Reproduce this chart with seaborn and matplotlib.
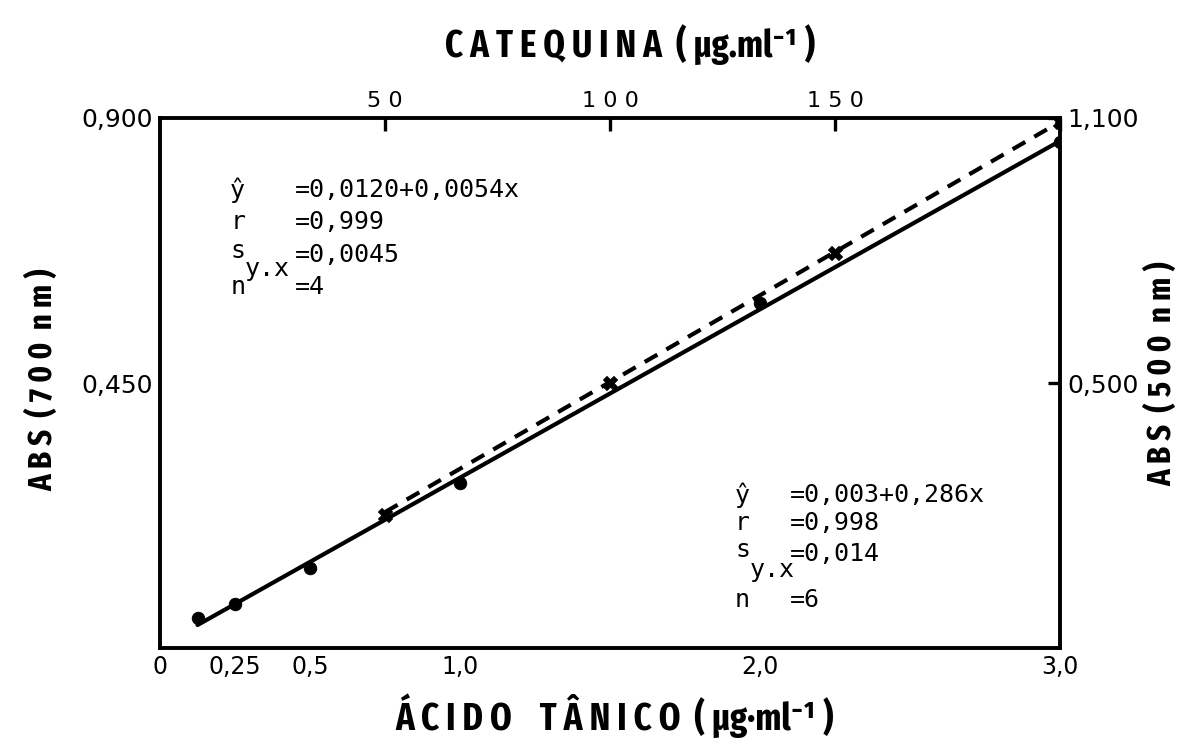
import matplotlib
matplotlib.use("Agg")
import matplotlib.pyplot as plt
import seaborn as sns
import pandas as pd

# ---- data ----
tanico_x = [0.125, 0.25, 0.5, 1.0, 2.0, 3.0]          # ácido tânico (µg/ml)
tanico_y = [0.051, 0.075, 0.136, 0.280, 0.586, 0.859]  # ABS 700 nm
tanico_fit_x = [0.125, 3.0]
tanico_fit_y = [0.039, 0.861]

catequina_x = [50, 100, 150, 200]                      # catequina (µg/ml)
catequina_y = [0.276, 0.550, 0.820, 1.092]             # ABS 500 nm
catequina_fit_x = [50, 200]
catequina_fit_y = [0.282, 1.092]

bottom_ticks = [0, 0.125, 0.25, 0.5, 1.0, 2.0, 3.0]
bottom_labels = ["0", "", "0,25", "0,5", "1,0", "2,0", "3,0"]
left_ticks = [0.225, 0.45, 0.675, 0.9]
left_labels = ["", "0,450", "", "0,900"]
top_ticks = [50, 100, 150, 200]
top_labels = ["5 0", "1 0 0", "1 5 0", ""]
right_ticks = [0.55, 1.1]
right_labels = ["0,500", "1,100"]

sns.set_style("white")
plt.rcParams["font.family"] = ["DejaVu Sans"]
for k in ["text.color", "axes.labelcolor", "xtick.color", "ytick.color"]:
    plt.rcParams[k] = "black"

W, H = 1192, 744
fig = plt.figure(figsize=(W / 100, H / 100), dpi=100)
pos = [160 / W, 1 - 648 / H, 900 / W, 530 / H]
ax = fig.add_axes(pos)
ax2 = fig.add_axes(pos, frameon=False)

df_t = pd.DataFrame({"x": tanico_x, "y": tanico_y})
df_tf = pd.DataFrame({"x": tanico_fit_x, "y": tanico_fit_y})
df_c = pd.DataFrame({"x": catequina_x, "y": catequina_y})
df_cf = pd.DataFrame({"x": catequina_fit_x, "y": catequina_fit_y})

sns.lineplot(data=df_tf, x="x", y="y", ax=ax, color="black", lw=3)
sns.scatterplot(data=df_t, x="x", y="y", ax=ax, color="black", s=80, edgecolor="black", zorder=5)

sns.lineplot(data=df_cf, x="x", y="y", ax=ax2, color="black", lw=3,
             linestyle=(0, (3.5, 2.5)))
sns.scatterplot(data=df_c, x="x", y="y", ax=ax2, color="black", marker="X", s=100,
                edgecolor="black", zorder=5)

ax.set_xlim(0, 3.0)
ax.set_ylim(0, 0.9)
ax2.set_xlim(0, 200)
ax2.set_ylim(0, 1.1)

for s in ax.spines.values():
    s.set_linewidth(2.8)
    s.set_color("black")

ax.set_xticks(bottom_ticks)
ax.set_xticklabels(bottom_labels, fontsize=17)
ax.set_yticks(left_ticks)
ax.set_yticklabels(left_labels, fontsize=18)
ax.tick_params(axis="both", direction="in", length=9, width=2.4, pad=5)

ax2.xaxis.tick_top()
ax2.yaxis.tick_right()
ax2.set_xticks(top_ticks)
ax2.set_xticklabels(top_labels, fontsize=16)
ax2.set_yticks(right_ticks)
ax2.set_yticklabels(right_labels, fontsize=18)
ax2.tick_params(axis="both", direction="in", length=9, width=2.4, pad=5)

for a in (ax, ax2):
    a.set_xlabel("")
    a.set_ylabel("")

title_font = dict(family=["Fira Sans Extra Condensed", "DejaVu Sans"], weight="bold")
fig.text(630 / W, 1 - 45 / H, "C A T E Q U I N A  ( µg.ml⁻¹ )", ha="center", va="center",
         fontsize=27, **title_font)
fig.text(615 / W, 1 - 716 / H, "Á C I D O    T Â N I C O  ( µg·ml⁻¹ )", ha="center", va="center",
         fontsize=27, **title_font)
fig.text(43 / W, 1 - 380 / H, "A B S  ( 7 0 0  n m )", ha="center", va="center", rotation=90,
         fontsize=24, **title_font)
fig.text(1162 / W, 1 - 374 / H, "A B S  ( 5 0 0  n m )", ha="center", va="center", rotation=90,
         fontsize=24, **title_font)

ann = dict(family="DejaVu Sans Mono", fontsize=18, color="black", va="center", ha="left")
T = ax.transAxes
# upper-left block (catequina)
ax.text(0.078, 0.864, "ŷ", transform=T, **ann)
ax.text(0.150, 0.864, "=0,0120+0,0054x", transform=T, **ann)
ax.text(0.078, 0.804, "r", transform=T, **ann)
ax.text(0.150, 0.804, "=0,999", transform=T, **ann)
ax.text(0.078, 0.750, "s", transform=T, **ann)
ax.text(0.094, 0.715, "y.x", transform=T, **ann)
ax.text(0.150, 0.742, "=0,0045", transform=T, **ann)
ax.text(0.078, 0.681, "n", transform=T, **ann)
ax.text(0.150, 0.681, "=4", transform=T, **ann)
# lower-right block (ácido tânico)
ax.text(0.639, 0.289, "ŷ", transform=T, **ann)
ax.text(0.700, 0.289, "=0,003+0,286x", transform=T, **ann)
ax.text(0.639, 0.236, "r", transform=T, **ann)
ax.text(0.700, 0.236, "=0,998", transform=T, **ann)
ax.text(0.639, 0.185, "s", transform=T, **ann)
ax.text(0.655, 0.148, "y.x", transform=T, **ann)
ax.text(0.700, 0.178, "=0,014", transform=T, **ann)
ax.text(0.639, 0.091, "n", transform=T, **ann)
ax.text(0.700, 0.091, "=6", transform=T, **ann)

fig.savefig("out.png", dpi=100, facecolor="white")
